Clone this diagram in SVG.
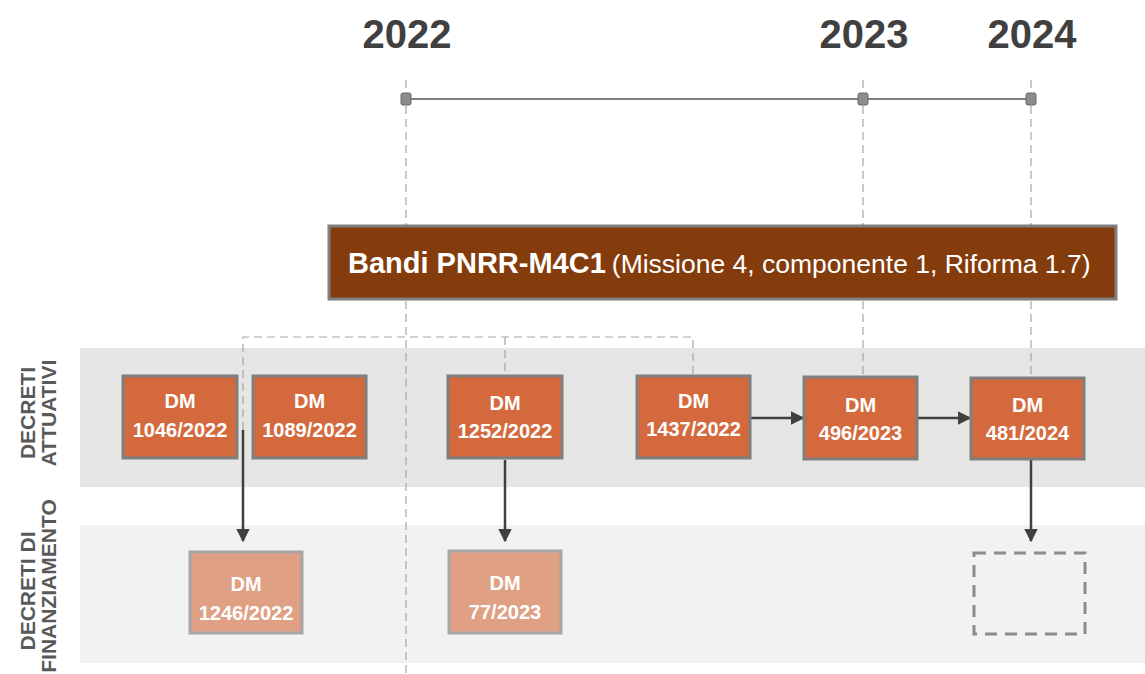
<svg xmlns="http://www.w3.org/2000/svg" width="1145" height="674" viewBox="0 0 1145 674">
<style>
.year{font-family:"Liberation Sans",Arial,sans-serif;font-weight:bold;font-size:40px;fill:#404040;text-anchor:middle}
.lab{font-family:"Liberation Sans",Arial,sans-serif;font-weight:bold;font-size:21px;fill:#595959;text-anchor:middle}
.dm{fill:#d4693e;stroke:#7f7f7f;stroke-width:3}
.dml{fill:#e0a083;stroke:#a6a6a6;stroke-width:3}
.t{font-family:"Liberation Sans",Arial,sans-serif;font-weight:bold;font-size:20px;fill:#ffffff;text-anchor:middle}
.guide{stroke:#a6a6a6;stroke-width:1.2;stroke-dasharray:8,5;fill:none}
.arr{stroke:#404040;stroke-width:2.5;fill:none;marker-end:url(#ah)}
</style>
<defs>
<marker id="ah" viewBox="0 0 10 10" refX="9" refY="5" markerWidth="5.5" markerHeight="5.5" orient="auto" markerUnits="strokeWidth">
<path d="M0,0 L10,5 L0,10 z" fill="#404040"/>
</marker>
</defs>
<rect width="1145" height="674" fill="#ffffff"/>
<g id="bands">
<rect x="80" y="348" width="1065" height="139" fill="#e6e6e6"/>
<rect x="80" y="525" width="1065" height="138" fill="#f2f2f2"/>
</g>
<g id="row-labels">
<text class="lab" transform="translate(35,413) rotate(-90)">DECRETI</text>
<text class="lab" transform="translate(56,413) rotate(-90)">ATTUATIVI</text>
<text class="lab" transform="translate(35,591) rotate(-90)">DECRETI DI</text>
<text class="lab" transform="translate(56,586) rotate(-90)" font-size="20">FINANZIAMENTO</text>
</g>
<g id="connectors">
<line class="guide" x1="406" y1="80" x2="406" y2="674"/>
<line class="guide" x1="863" y1="80" x2="863" y2="376"/>
<line class="guide" x1="1031" y1="80" x2="1031" y2="376"/>
<polyline class="guide" points="243,430 243,337 693,337 693,376"/>
<line class="guide" x1="505" y1="337" x2="505" y2="376"/>
<line x1="406" y1="99" x2="1031" y2="99" stroke="#7f7f7f" stroke-width="2"/>
<line class="arr" x1="243" y1="430" x2="243" y2="541"/>
<line class="arr" x1="505" y1="460" x2="505" y2="541"/>
<line class="arr" x1="1031" y1="460" x2="1031" y2="541"/>
<line class="arr" x1="751" y1="418" x2="803" y2="418"/>
<line class="arr" x1="918" y1="418" x2="970" y2="418"/>
</g>
<g id="timeline">
<text class="year" x="407" y="48">2022</text>
<text class="year" x="864" y="48">2023</text>
<text class="year" x="1032" y="48">2024</text>
<rect x="401" y="93" width="10" height="12" rx="2" fill="#8c8c8c" stroke="#666666" stroke-width="1"/>
<rect x="858" y="93" width="10" height="12" rx="2" fill="#8c8c8c" stroke="#666666" stroke-width="1"/>
<rect x="1026" y="93" width="10" height="12" rx="2" fill="#8c8c8c" stroke="#666666" stroke-width="1"/>
</g>
<g id="bandi">
<rect x="329" y="226" width="787" height="73" fill="#843c0c" stroke="#7f7f7f" stroke-width="3"/>
<text x="348" y="273" font-family="'Liberation Sans',Arial,sans-serif" fill="#ffffff"><tspan font-weight="bold" font-size="29">Bandi PNRR-M4C1</tspan><tspan font-size="26.5" dx="6">(Missione 4, componente 1, Riforma 1.7)</tspan></text>
</g>
<g id="dm1046"><rect class="dm" x="123" y="376" width="114" height="82"/><text class="t" x="180" y="408">DM</text><text class="t" x="180" y="437">1046/2022</text></g>
<g id="dm1089"><rect class="dm" x="253" y="376" width="113" height="82"/><text class="t" x="309.5" y="408">DM</text><text class="t" x="309.5" y="437">1089/2022</text></g>
<g id="dm1252"><rect class="dm" x="448" y="376" width="114" height="82"/><text class="t" x="505" y="410">DM</text><text class="t" x="505" y="438">1252/2022</text></g>
<g id="dm1437"><rect class="dm" x="637" y="376" width="113" height="82"/><text class="t" x="693.5" y="408">DM</text><text class="t" x="693.5" y="436">1437/2022</text></g>
<g id="dm496"><rect class="dm" x="804" y="377" width="113" height="82"/><text class="t" x="860.5" y="412">DM</text><text class="t" x="860.5" y="440">496/2023</text></g>
<g id="dm481"><rect class="dm" x="971" y="378" width="113" height="81"/><text class="t" x="1027.5" y="412">DM</text><text class="t" x="1027.5" y="440">481/2024</text></g>
<g id="dm1246"><rect class="dml" x="190" y="552" width="112" height="81"/><text class="t" x="246" y="591">DM</text><text class="t" x="246" y="620">1246/2022</text></g>
<g id="dm77"><rect class="dml" x="449" y="551" width="112" height="82"/><text class="t" x="505" y="590">DM</text><text class="t" x="505" y="619">77/2023</text></g>
<g id="placeholder"><rect x="974" y="553" width="111" height="81" fill="none" stroke="#8c8c8c" stroke-width="3" stroke-dasharray="12,8"/></g>
</svg>
